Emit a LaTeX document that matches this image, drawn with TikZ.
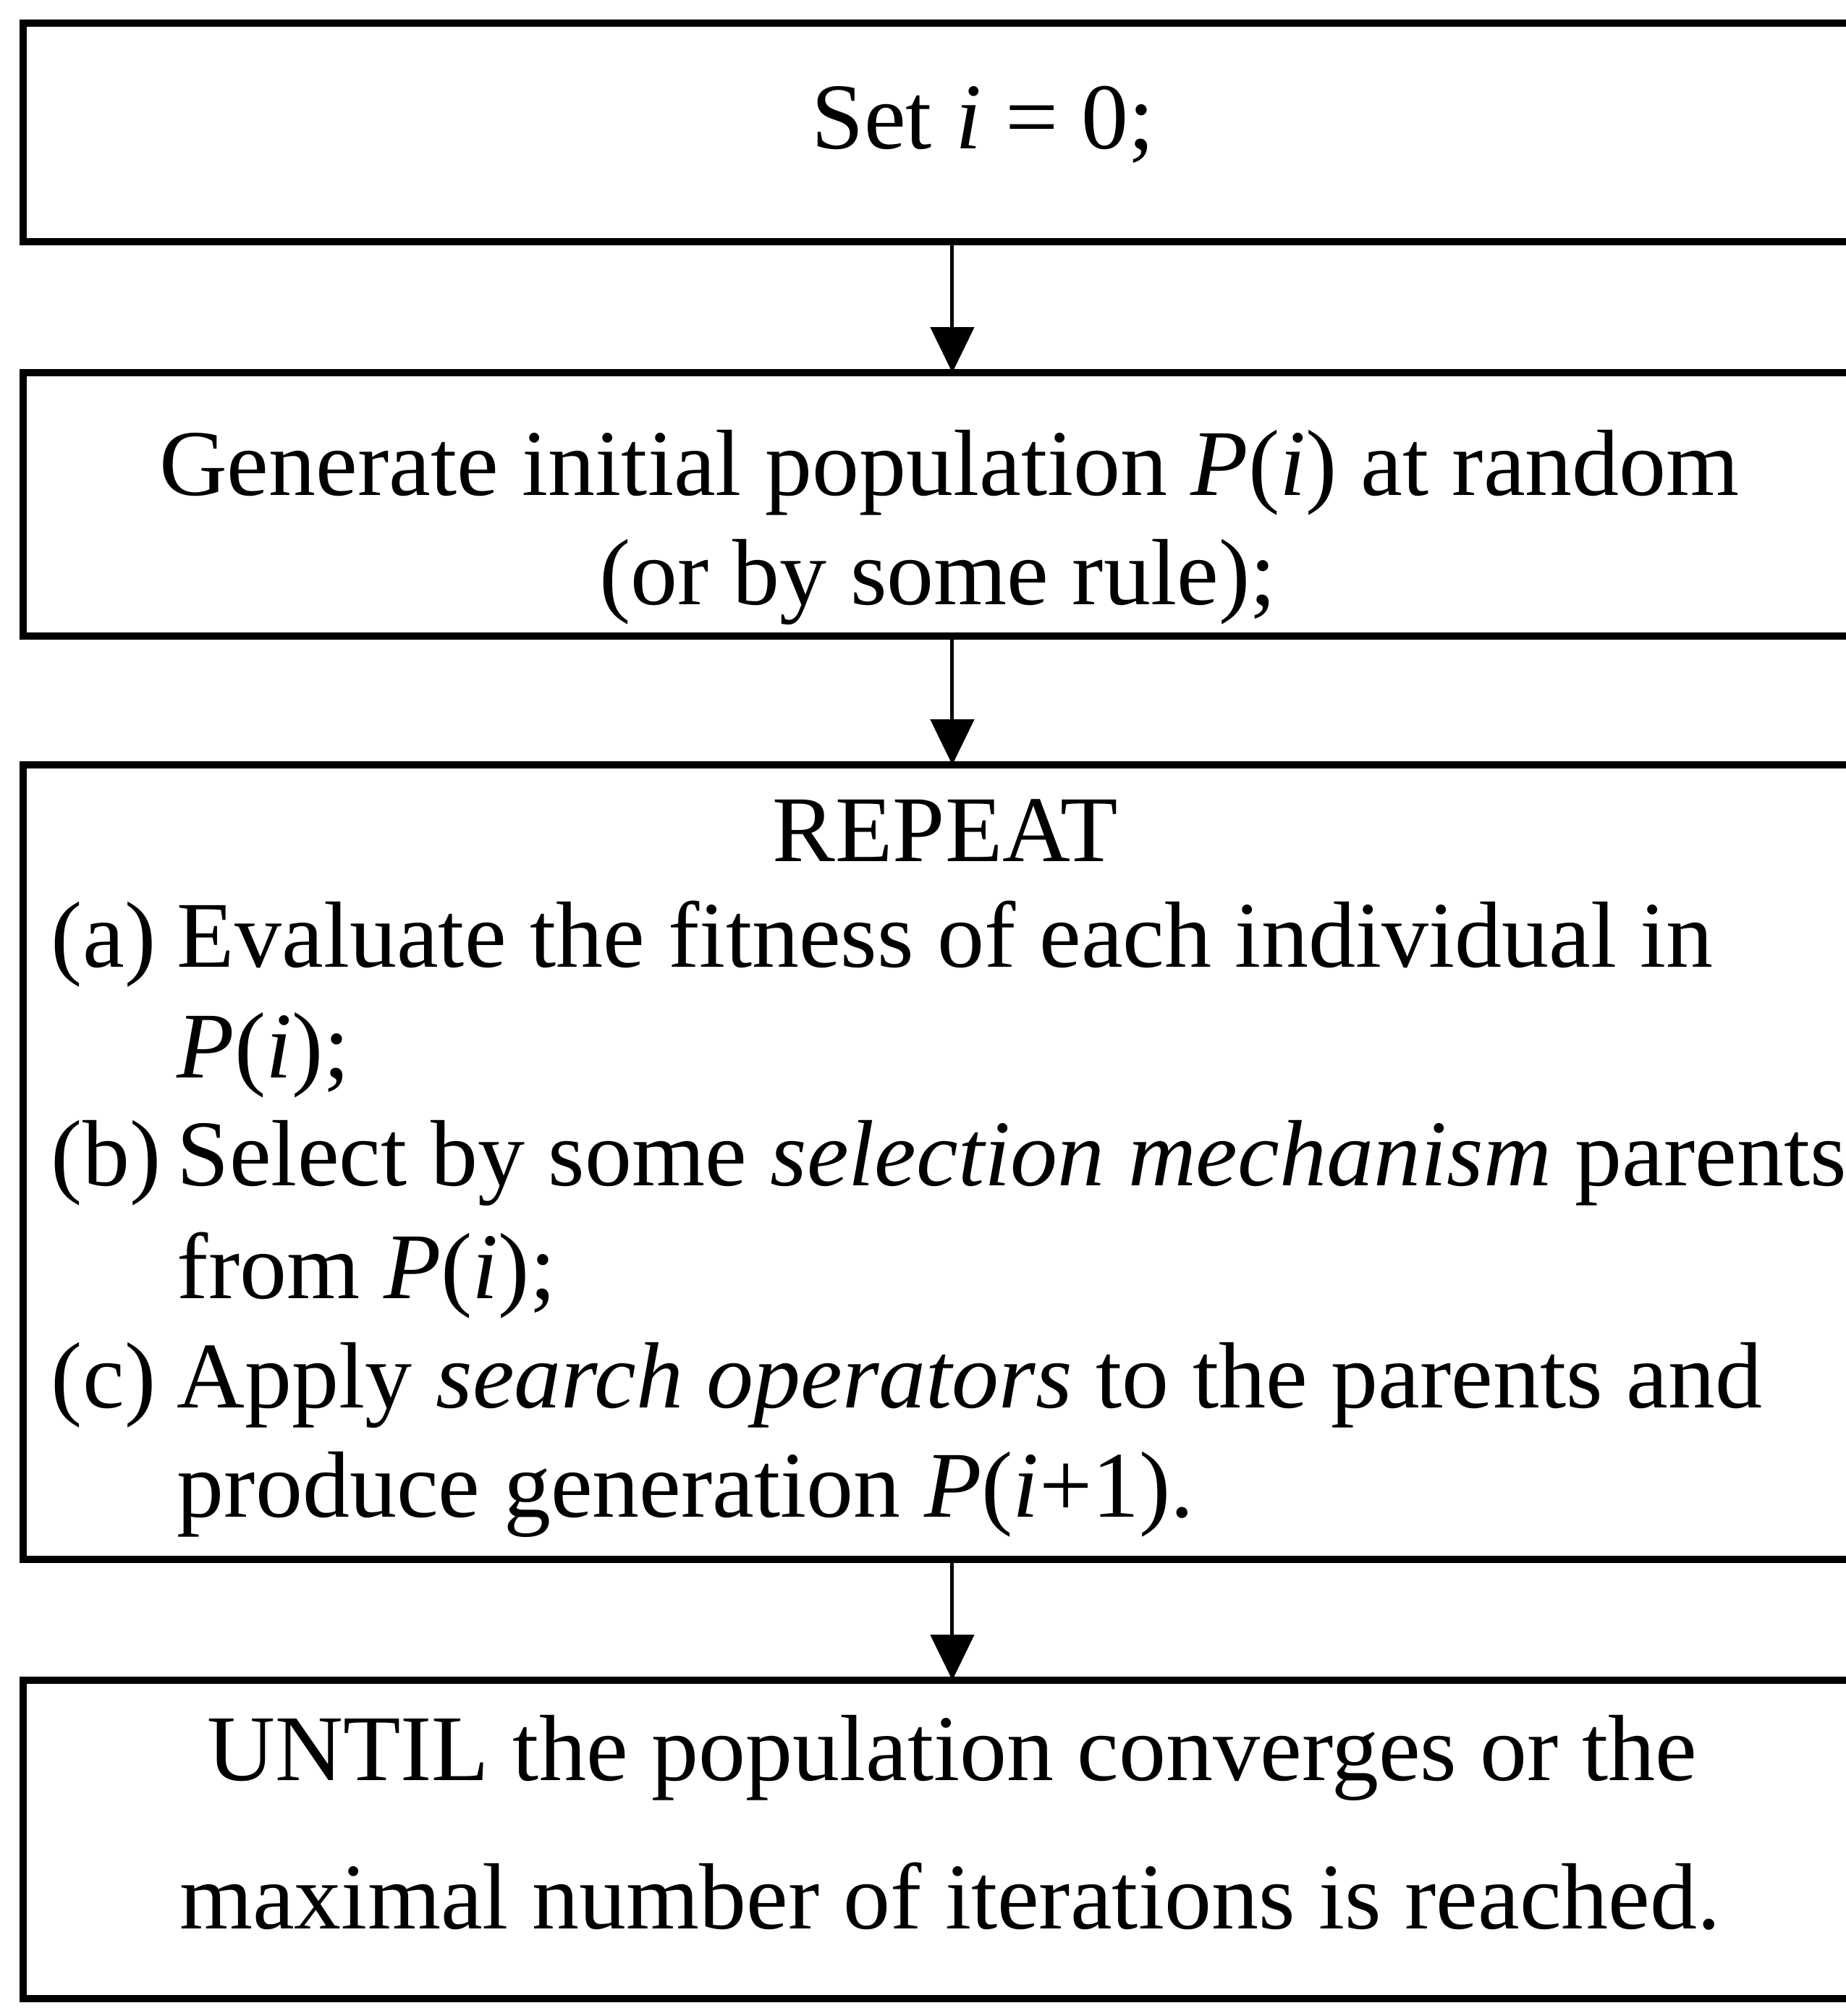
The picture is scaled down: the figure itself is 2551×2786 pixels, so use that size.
\documentclass[tikz,border=0pt]{standalone}
\usepackage{fontspec}
\setmainfont{Liberation Serif}
\usetikzlibrary{arrows.meta}
\begin{document}
\begin{tikzpicture}[x=0.1pt,y=-0.1pt,
  box/.style={draw=black,line width=1pt,rectangle,minimum width=256.8pt,outer sep=0pt,inner sep=0pt},
  txt/.style={inner sep=0pt,outer sep=0pt,font=\fontsize{13pt}{15.1pt}\selectfont},
  arr/.style={line width=0.5pt,-{Triangle[width=6pt,length=6.3pt]}}]
\useasboundingbox (0,0) rectangle (2551,2786);
\fill[white] (0,0) rectangle (2551,2786);
% boxes
\node[box,minimum height=30.2pt] (b1) at (1316,183) {};
\node[box,minimum height=36.4pt] (b2) at (1316,697) {};
\node[box,minimum height=109.8pt] (b3) at (1316,1606) {};
\node[box,minimum height=44pt] (b4) at (1316,2542) {};
% texts
\node[txt,anchor=base] (t1) at (1359,205) {Set \textit{i} = 0;};
\node[txt,anchor=base] (t2a) at (1312,684) {Generate initial population \textit{P}(\textit{i}) at random};
\node[txt,anchor=base] (t2b) at (1296,835) {(or by some rule);};
\node[txt,anchor=base] (t3) at (1306,1190) {REPEAT};
\node[txt,anchor=base west] (la) at (71,1336) {(a)};
\node[txt,anchor=base west] (a1) at (245,1336) {Evaluate the fitness of each individual in};
\node[txt,anchor=base west] (a2) at (245,1489) {\textit{P}(\textit{i});};
\node[txt,anchor=base west] (lb) at (71,1638) {(b)};
\node[txt,anchor=base west] (b1t) at (245,1638) {Select by some \textit{selection mechanism} parents};
\node[txt,anchor=base west] (b2t) at (245,1794) {from \textit{P}(\textit{i});};
\node[txt,anchor=base west] (lc) at (71,1945) {(c)};
\node[txt,anchor=base west] (c1) at (245,1945) {Apply \textit{search operators} to the parents and};
\node[txt,anchor=base west] (c2) at (245,2096) {produce generation \textit{P}(\textit{i}+1).};
\node[txt,anchor=base] (t4a) at (1316,2460) {UNTIL the population converges or the};
\node[txt,anchor=base] (t4b) at (1313,2665) {maximal number of iterations is reached.};
% connectors
\draw[arr] (b1.south) -- (b2.north);
\draw[arr] (b2.south) -- (b3.north);
\draw[arr] (b3.south) -- (b4.north);
\end{tikzpicture}
\end{document}
